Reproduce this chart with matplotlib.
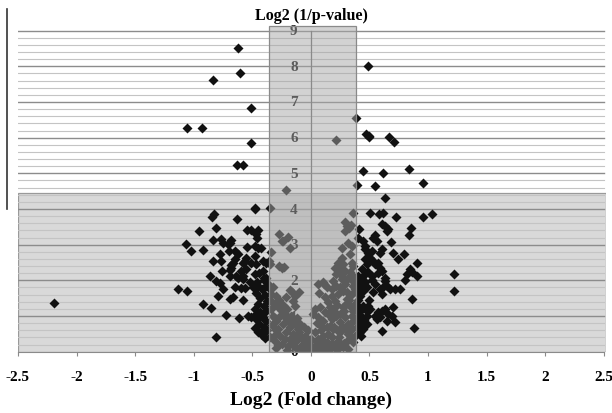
import matplotlib
matplotlib.use("Agg")
import matplotlib.pyplot as plt
from matplotlib.lines import Line2D
from matplotlib.patches import Rectangle
import numpy as np

# --- data -----------------------------------------------------------------

# points above the shaded band (log2 1/p > 4.45)
top_fc = [-0.618, -0.604, -0.832, -0.515, -1.06, -0.926, -0.515, -0.63, -0.575, -0.214,
          0.49, 0.382, 0.214, 0.467, 0.496, 0.498, 0.667, 0.712, 0.444, 0.618, 0.838,
          0.396, 0.544, 0.955, 0.636]
top_p = [8.51, 7.82, 7.62, 6.82, 6.26, 6.27, 5.85, 5.24, 5.24, 4.54,
         8.01, 6.54, 5.94, 6.10, 6.05, 6.01, 6.02, 5.89, 5.06, 5.01, 5.13,
         4.68, 4.65, 4.72, 4.31]

# down-regulated cluster (left of the fold-change band)
left_fc = [-0.476, -0.479, -0.826, -0.843, -0.63, -0.955, -0.81, -0.544, -0.513, -0.467,
           -0.459, -0.45, -0.835, -0.763, -0.749, -0.678, -0.692, -0.707, -1.062, -1.02,
           -0.92, -0.544, -0.479, -0.45, -0.427, -0.70, -0.65, -0.62, -0.772, -0.835,
           -0.763, -0.65, -0.664, -0.678, -0.55, -0.564, -0.579, -0.479, -0.507, -0.464,
           -0.408, -0.379, -0.755, -0.692, -0.678, -0.60, -0.55, -0.863, -0.692, -0.635,
           -0.579, -0.479, -0.408, -0.40, -0.806, -0.778, -0.62, -0.579, -0.65, -0.592,
           -0.564, -0.521, -0.493, -0.45, -1.134, -1.054, -0.749, -0.792, -0.692, -0.664,
           -0.579, -0.92, -0.849, -0.72, -0.615, -0.536, -0.507, -0.464, -0.436, -0.479,
           -0.408, -0.42, -0.81, -2.19, -0.44, -0.40, -0.46, -0.38, -0.42, -0.47,
           -0.39, -0.43, -0.37, -0.45, -0.40, -0.48, -0.38, -0.43, -0.41, -0.46,
           -0.38, -0.44, -0.40, -0.37, -0.45, -0.42, -0.39, -0.379]
left_p = [4.02, 3.99, 3.86, 3.79, 3.72, 3.38, 3.48, 3.41, 3.42, 3.30,
          3.18, 3.42, 3.14, 3.16, 3.06, 3.14, 3.05, 3.01, 3.02, 2.83,
          2.86, 2.94, 2.97, 2.92, 2.90, 2.81, 2.83, 2.74, 2.73, 2.54,
          2.55, 2.60, 2.50, 2.43, 2.64, 2.55, 2.48, 2.69, 2.50, 2.46,
          2.55, 2.50, 2.27, 2.30, 2.36, 2.27, 2.32, 2.13, 2.13, 2.13,
          2.11, 2.18, 2.27, 2.08, 1.99, 1.92, 2.08, 2.04, 1.80, 1.78,
          1.78, 1.94, 1.80, 1.85, 1.76, 1.69, 1.76, 1.55, 1.48, 1.52,
          1.46, 1.34, 1.22, 1.04, 0.94, 1.01, 0.96, 1.06, 1.10, 0.66,
          0.50, 0.59, 0.40, 1.36, 2.20, 2.00, 1.95, 1.85, 1.75, 1.65,
          1.60, 1.50, 1.42, 1.35, 1.28, 1.20, 1.15, 1.08, 0.98, 0.90,
          0.85, 0.78, 0.70, 0.62, 0.55, 0.48, 0.38, 2.08]

# points inside the +/- fold-change band
mid_fc = [-0.347, -0.274, -0.237, -0.199, -0.18, -0.25, -0.336, -0.359, -0.35, -0.274,
          -0.25, -0.23, 0.362, 0.29, 0.305, 0.342, 0.325, 0.29, 0.319, 0.262,
          0.353, 0.333, 0.262, 0.233, 0.276, 0.348, 0.362, 0.205, 0.248, 0.29,
          0.333, 0.219, 0.262, 0.319, 0.362, -0.365, -0.35, -0.336, -0.208, -0.165,
          -0.137, -0.151, -0.137, -0.18, -0.336, -0.308, -0.279, -0.25, -0.265, -0.222,
          -0.194, -0.294, -0.237, -0.18, -0.279, -0.208, -0.151, -0.137, -0.108, -0.08,
          -0.123, -0.051, -0.222, -0.023, 0.034, 0.077, 0.12, 0.006, 0.063, 0.105,
          0.162, 0.177, -0.066, -0.037, 0.063, 0.105, 0.134, 0.191, 0.219, 0.262,
          0.29, 0.333, 0.362, 0.034, 0.077, 0.12, 0.148, 0.177, 0.205, 0.233,
          0.276, 0.305, 0.348, 0.376, 0.333, 0.362, 0.276, 0.063, 0.105, 0.148,
          0.177, 0.219, 0.248, 0.29, 0.319, 0.362, 0.134, 0.191, 0.248, 0.319,
          0.376, 0.105, 0.177, 0.233, 0.305, 0.362, 0.034, 0.063, 0.134, 0.205,
          0.276, 0.319, -0.35, -0.308, -0.25, -0.194, -0.137, -0.094, -0.10, -0.05,
          0.0, 0.05, 0.10, 0.15, 0.20, -0.02, 0.08, 0.0, -0.15, 0.25,
          -0.30, -0.32, -0.28, 0.07, 0.11, -0.10,
          -0.32, -0.30, -0.27, -0.24, -0.20, -0.22, -0.17, -0.12, -0.15, -0.10,
          -0.06, -0.33, -0.30, -0.26, -0.18, -0.13, -0.04, -0.08, -0.20, -0.30,
          -0.34, -0.31, 0.02, 0.05, 0.09, 0.12, 0.16, 0.20, 0.22, 0.25,
          0.28, 0.30, 0.33, 0.35, 0.37, 0.27, 0.22, 0.16, 0.30, 0.35,
          0.24, 0.15, 0.22, 0.28, 0.34, 0.18, 0.25, 0.31, 0.36]
mid_p = [4.03, 3.31, 3.09, 3.22, 2.92, 3.11, 2.80, 2.55, 2.46, 2.41,
         2.34, 2.38, 3.90, 3.64, 3.53, 3.55, 3.46, 3.39, 3.06, 2.90,
         2.97, 2.74, 2.64, 2.50, 2.46, 2.50, 2.41, 2.36, 2.32, 2.27,
         2.23, 2.18, 2.13, 2.08, 2.13, 1.90, 1.76, 1.62, 1.52, 1.66,
         1.57, 1.43, 1.29, 1.73, 1.43, 1.33, 1.24, 1.15, 1.01, 0.96,
         0.87, 0.87, 0.78, 0.68, 0.64, 0.54, 0.50, 0.78, 0.64, 0.40,
         0.31, 0.31, 0.36, 0.22, 0.17, 0.12, 0.17, 0.08, 0.05, 0.03,
         0.08, 0.22, 0.12, 0.01, 1.90, 1.94, 1.80, 1.99, 1.85, 2.04,
         1.90, 2.08, 1.99, 1.20, 1.24, 1.52, 1.38, 1.57, 1.43, 1.62,
         1.71, 1.48, 1.62, 1.76, 1.29, 1.15, 1.24, 0.96, 0.87, 1.06,
         0.92, 1.01, 0.82, 0.96, 0.78, 0.87, 0.68, 0.64, 0.54, 0.50,
         0.45, 0.45, 0.40, 0.31, 0.31, 0.26, 0.54, 0.36, 0.26, 0.17,
         0.12, 0.08, 0.40, 0.31, 0.22, 0.17, 0.12, 0.08, 0.55, 0.45,
         0.35, 0.28, 0.30, 0.50, 0.70, 0.60, 0.75, 0.15, 0.25, 0.20,
         0.50, 1.00, 0.20, 1.64, 1.90, 1.68,
         1.80, 1.55, 1.45, 1.30, 1.20, 1.05, 1.00, 0.95, 0.85, 0.80,
         0.70, 0.75, 0.60, 0.45, 0.35, 0.45, 0.20, 0.15, 0.05, 0.10,
         1.20, 0.95, 1.05, 0.80, 0.60, 1.10, 1.25, 1.15, 1.30, 1.05,
         1.15, 1.35, 1.45, 1.00, 1.30, 0.70, 0.60, 0.72, 0.60, 0.65,
         0.40, 0.10, 0.05, 0.25, 0.40, 1.75, 1.80, 1.68, 1.85]

# up-regulated cluster (right of the fold-change band)
right_fc = [0.504, 0.581, 0.618, 0.724, 0.96, 1.037, 0.41, 0.604, 0.632, 0.661,
            0.647, 0.855, 0.838, 0.404, 0.447, 0.462, 0.547, 0.562, 0.533, 0.681,
            0.462, 0.49, 0.519, 0.604, 0.59, 0.704, 0.746, 0.795, 0.462, 0.504,
            0.533, 0.476, 0.547, 0.576, 0.903, 0.846, 0.818, 0.861, 0.433, 0.49,
            0.59, 0.604, 0.447, 0.519, 0.632, 0.903, 1.225, 1.225, 0.883, 0.861,
            0.803, 0.404, 0.433, 0.462, 0.419, 0.476, 0.447, 0.404, 0.533, 0.604,
            0.632, 0.647, 0.675, 0.718, 0.761, 0.618, 0.59, 0.404, 0.447, 0.49,
            0.433, 0.476, 0.404, 0.504, 0.704, 0.547, 0.576, 0.604, 0.632, 0.562,
            0.59, 0.661, 0.69, 0.647, 0.718, 0.404, 0.433, 0.476, 0.447, 0.604,
            0.427, 0.39, 0.40, 0.42, 0.40, 0.43, 0.40, 0.45, 0.42, 0.48,
            0.50, 0.52, 0.55, 0.57]
right_p = [3.90, 3.86, 3.90, 3.79, 3.79, 3.86, 3.44, 3.58, 3.53, 3.44,
           3.39, 3.48, 3.27, 3.20, 3.11, 2.97, 3.27, 3.11, 3.20, 3.08,
           2.88, 2.78, 2.83, 2.88, 2.78, 2.76, 2.60, 2.74, 2.60, 2.64,
           2.55, 2.46, 2.46, 2.50, 2.50, 2.32, 2.18, 2.23, 2.32, 2.23,
           2.36, 2.27, 2.13, 2.13, 2.06, 2.11, 2.17, 1.71, 0.67, 1.48,
           2.01, 2.13, 2.04, 1.94, 1.85, 1.80, 1.71, 1.66, 1.66, 1.62,
           1.99, 1.85, 1.76, 1.76, 1.76, 1.80, 1.76, 1.29, 1.29, 1.29,
           1.20, 1.15, 1.10, 1.20, 1.26, 1.01, 1.10, 1.15, 1.20, 0.92,
           0.96, 1.06, 1.01, 0.87, 0.82, 0.82, 0.73, 0.78, 0.64, 0.59,
           0.45, 0.68, 1.95, 1.55, 1.45, 1.00, 0.95, 0.90, 0.55, 1.00,
           1.45, 2.00, 1.90, 2.20]

x_ticks = [-2.5, -2, -1.5, -1, -0.5, 0, 0.5, 1, 1.5, 2, 2.5]
x_tick_labels = ["-2.5", "-2", "-1.5", "-1", "-0.5", "0", "0.5", "1", "1.5", "2", "2.5"]
y_ticks = [0, 1, 2, 3, 4, 5, 6, 7, 8, 9]

p_cutoff = 4.45          # top of the horizontal shaded band
fc_band = (-0.36, 0.385)  # vertical shaded band

# --- figure -----------------------------------------------------------------

W, H = 612, 414
fig = plt.figure(figsize=(W / 100, H / 100), dpi=100)
ax = fig.add_axes([18 / W, (H - 352.7) / H, 588 / W, 326.4 / H])
ax.set_xlim(-2.5, 2.52)
ax.set_ylim(0, 9.15)

serif = "Liberation Serif"

# gridlines: major every 1, minor every 0.2
for y in np.arange(0.2, 9.01, 0.2):
    major = abs(y - round(y)) < 1e-6
    ax.plot([-2.5, 2.5], [y, y], color="#8c8c8c" if major else "#c4c4c4",
            lw=1.0 if major else 0.8, zorder=1.5)

# horizontal shaded band (not significant by p)
ax.add_patch(Rectangle((-2.5, 0), 5.02, p_cutoff, facecolor="#d9d9d9",
                       edgecolor="#9a9a9a", lw=0.9, zorder=1))

# y tick labels sit on the y axis (drawn under the vertical band)
for y in y_ticks:
    ax.text(-0.145, y, str(y), ha="center", va="center", fontsize=11,
            family=serif, fontweight="bold", color="#111111", zorder=2.5)

for fc, p in [(top_fc, top_p), (left_fc, left_p), (mid_fc, mid_p), (right_fc, right_p)]:
    ax.plot(fc, p, linestyle="none", marker="D", ms=4.8, mec="none",
            color="#111111", zorder=2)

# vertical shaded band (not significant by fold change)
ax.add_patch(Rectangle((fc_band[0], 0), fc_band[1] - fc_band[0], 9.13,
                       facecolor="#a7a7a7", alpha=0.5, edgecolor="none", zorder=3))
ax.add_patch(Rectangle((fc_band[0], 0), fc_band[1] - fc_band[0], 9.13,
                       facecolor="none", edgecolor="#8a8a8a", lw=0.9, zorder=3.1))
ax.plot([0, 0], [0, 9], color="#8a8a8a", lw=0.9, zorder=3.1)

for s in ["left", "right", "top"]:
    ax.spines[s].set_visible(False)
ax.spines["bottom"].set_color("#8a8a8a")
ax.spines["bottom"].set_bounds(-2.5, 2.5)
ax.set_yticks([])
ax.set_xticks(x_ticks)
ax.set_xticklabels(x_tick_labels, family=serif, fontweight="bold", fontsize=11)
ax.tick_params(axis="x", direction="out", length=3, color="#8a8a8a", pad=10)

fig.text(311 / W, 1 - 16 / H, "Log2 (1/p-value)", ha="center", va="center",
         family=serif, fontweight="bold", fontsize=11.5)
fig.text(311 / W, 1 - 400 / H, "Log2 (Fold change)", ha="center", va="center",
         family=serif, fontweight="bold", fontsize=14)

# stray frame edge on the left of the original figure
fig.add_artist(Line2D([7 / W, 7 / W], [1 - 10 / H, 1 - 210 / H], color="#333333", lw=1.2))

fig.savefig("out.png", dpi=100)
